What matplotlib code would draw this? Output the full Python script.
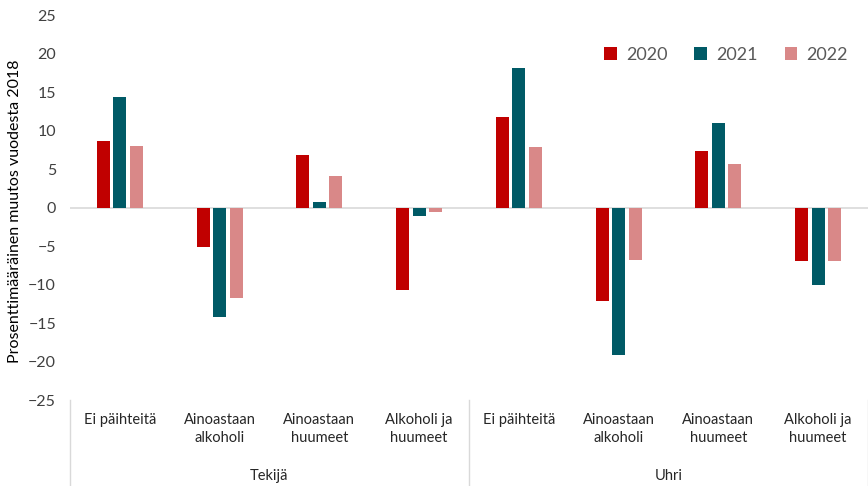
import numpy as np
import matplotlib
matplotlib.use("Agg")
from matplotlib import pyplot as plt

plt.rcParams['font.family'] = ['Lato', 'DejaVu Sans']

groups = ['Tekijä', 'Uhri']
categories = ['Ei päihteitä', 'Ainoastaan\nalkoholi', 'Ainoastaan\nhuumeet', 'Alkoholi ja\nhuumeet']
years = ['2020', '2021', '2022']
v2020 = [8.7, -5.1, 6.8, -10.7, 11.7, -12.2, 7.3, -7.0]
v2021 = [14.4, -14.2, 0.7, -1.1, 18.1, -19.2, 11.0, -10.0]
v2022 = [8.0, -11.7, 4.1, -0.6, 7.9, -6.8, 5.7, -7.0]
colors = ['#C00000', '#005A66', '#D98888']

fig = plt.figure(figsize=(8.68, 4.86), dpi=100)
ax = fig.add_axes([70/868, 1-400/486, 798/868, 385/486])

x = np.arange(len(v2020))
w = 0.13
step = 0.165
for k, (vals, c, lab) in enumerate(zip([v2020, v2021, v2022], colors, years)):
    ax.bar(x + (k-1)*step, vals, w, color=c, label=lab, zorder=3)

ax.set_xlim(-0.5, len(x)-0.5)
ax.set_ylim(-25, 25)
ax.set_yticks(range(-25, 26, 5))
ax.tick_params(axis='y', length=0, labelsize=11.5, labelcolor='#404040', pad=10)
ax.set_xticks([])
for s in ax.spines.values():
    s.set_visible(False)
ax.axhline(0, color='#D9D9D9', lw=1.2, zorder=2)

ax.set_ylabel('Prosenttimääräinen muutos vuodesta 2018', fontsize=11.5, color='black')
ax.yaxis.set_label_coords(-0.060, 0.49)

trans = ax.get_xaxis_transform()
labels = categories * 2
for i, lab in enumerate(labels):
    ax.text(i, -0.035, lab, transform=trans, ha='center', va='top', fontsize=10.5,
            color='#262626', linespacing=1.35)
for g, name in enumerate(groups):
    ax.text(g*4 + 1.5, -0.18, name, transform=trans, ha='center', va='top', fontsize=10.5,
            color='#262626')
for xs in [-0.5, 3.5, 7.5]:
    ax.plot([xs, xs], [0, -0.23], transform=trans, color='#D9D9D9', lw=1, clip_on=False)

ax.legend(loc='upper right', bbox_to_anchor=(0.995, 0.96), ncol=3, frameon=False,
          fontsize=13, handlelength=0.7, handleheight=0.7, columnspacing=1.5,
          handletextpad=0.5, labelcolor='#595959')

fig.savefig('out.png', dpi=100)
